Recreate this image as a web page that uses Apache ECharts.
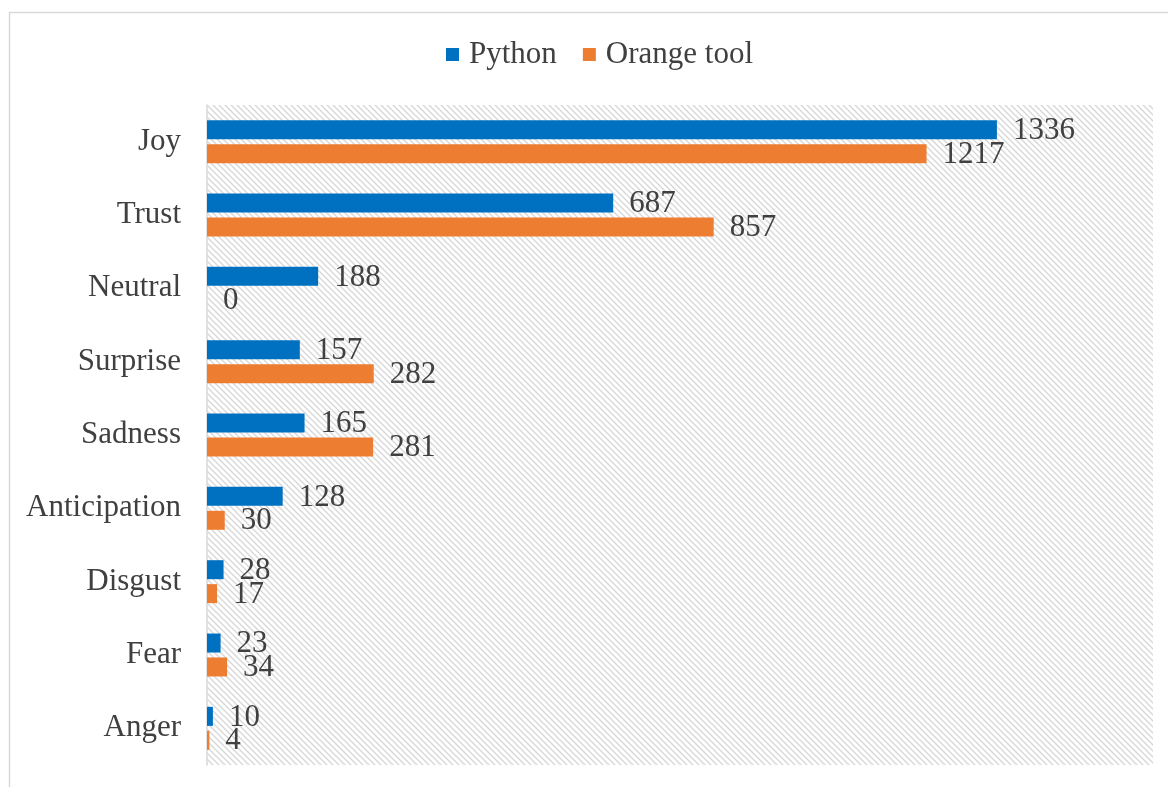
<!DOCTYPE html>
<html>
<head>
<meta charset="utf-8">
<script src="https://cdn.jsdelivr.net/npm/echarts@6/dist/echarts.min.js"></script>
<style>
  html, body { margin: 0; padding: 0; background: #ffffff; }
  #chart { width: 1168px; height: 787px; }
</style>
</head>
<body>
<div id="chart"></div>
<script>
// Emotion counts per tool
const categories = ['Joy', 'Trust', 'Neutral', 'Surprise', 'Sadness', 'Anticipation', 'Disgust', 'Fear', 'Anger'];
const pythonValues = [1336, 687, 188, 157, 165, 128, 28, 23, 10];
const orangeValues = [1217, 857, 0, 282, 281, 30, 17, 34, 4];
const seriesNames = ['Python', 'Orange tool'];

// Diagonal hatch tile for the plot background
function makeHatch() {
  const s = 6;
  const c = document.createElement('canvas');
  c.width = s; c.height = s;
  const ctx = c.getContext('2d');
  ctx.fillStyle = '#ffffff';
  ctx.fillRect(0, 0, s, s);
  ctx.strokeStyle = '#d6d6d6';
  ctx.lineWidth = 1.3;
  ctx.beginPath();
  ctx.moveTo(-1, -1); ctx.lineTo(s + 1, s + 1);
  ctx.moveTo(-1, s - 1); ctx.lineTo(1, s + 1);
  ctx.moveTo(s - 1, -1); ctx.lineTo(s + 1, 1);
  ctx.stroke();
  return c;
}

const FONT = '"Liberation Serif", "Times New Roman", serif';
const TEXT = '#404040';
const SIZE = 31;

const labelStyle = {
  show: true,
  position: 'right',
  distance: 16,
  offset: [0, 1],
  color: TEXT,
  fontFamily: FONT,
  fontSize: SIZE
};

const chart = echarts.init(document.getElementById('chart'), null, { renderer: 'canvas' });
chart.setOption({
  animation: false,
  backgroundColor: '#ffffff',
  graphic: [{
    type: 'rect',
    left: 7, top: 10,
    shape: { width: 1200, height: 800 },
    style: { fill: 'none', stroke: '#d9d9d9', lineWidth: 1.5 },
    silent: true
  }],
  legend: {
    top: 34,
    left: 441,
    itemWidth: 13,
    itemHeight: 13,
    itemGap: 26,
    icon: 'rect',
    textStyle: { color: TEXT, fontFamily: FONT, fontSize: SIZE, padding: [0, 0, 0, 5] },
    data: seriesNames
  },
  grid: {
    left: 207, right: 15, top: 105, bottom: 22,
    show: true,
    borderWidth: 0,
    backgroundColor: { image: makeHatch(), repeat: 'repeat' }
  },
  xAxis: {
    type: 'value',
    min: 0, max: 1600,
    show: false
  },
  yAxis: {
    type: 'category',
    inverse: true,
    data: categories,
    axisLine: { show: true, lineStyle: { color: '#d9d9d9', width: 1.5 } },
    axisTick: { show: false },
    axisLabel: { color: TEXT, fontFamily: FONT, fontSize: SIZE, margin: 26, padding: [4, 0, 0, 0] }
  },
  series: [
    {
      name: seriesNames[0],
      type: 'bar',
      data: pythonValues,
      barWidth: 19,
      barGap: '26%',
      itemStyle: { color: '#0070C0' },
      label: labelStyle
    },
    {
      name: seriesNames[1],
      type: 'bar',
      data: orangeValues,
      barWidth: 19,
      itemStyle: { color: '#ED7D31' },
      label: labelStyle
    }
  ]
});
</script>
</body>
</html>
